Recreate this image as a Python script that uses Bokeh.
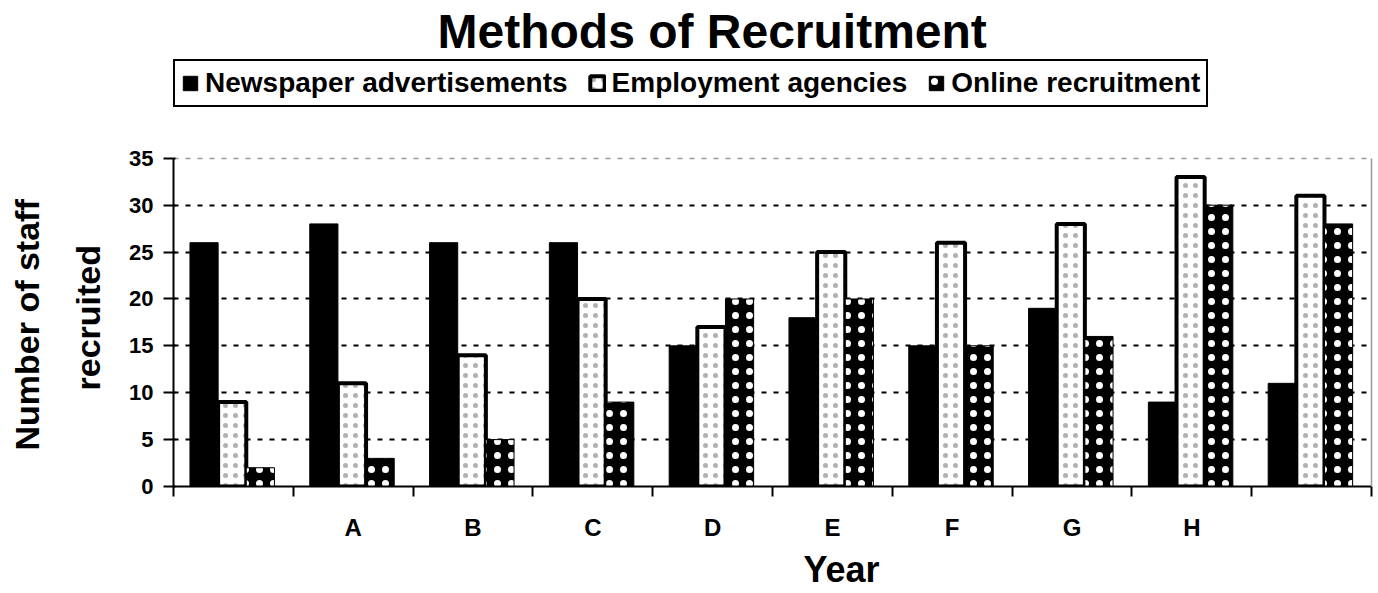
from bokeh.plotting import figure
from bokeh.models import (ColumnDataSource, Range1d, FixedTicker, Legend, LegendItem,
                          Title, Grid, LinearAxis)
from bokeh.transform import dodge
from bokeh.embed import file_html
from bokeh.resources import INLINE

categories = ["", "A", "B", "C", "D", "E", "F", "G", "H", ""]
newspaper = [26, 28, 26, 26, 15, 18, 15, 19, 9, 11]
agencies = [9, 11, 14, 20, 17, 25, 26, 28, 33, 31]
online = [2, 3, 5, 9, 20, 20, 15, 16, 30, 28]
series_names = ["Newspaper advertisements", "Employment agencies", "Online recruitment"]
y_ticks = [0, 5, 10, 15, 20, 25, 30, 35]
y_label_lines = ["Number of staff", "recruited"]

centers = [i + 0.49 for i in range(len(categories))]
source = ColumnDataSource(dict(x=centers, news=newspaper, agen=agencies, onl=online))

FONT = "Liberation Sans"

# layout (pixels): frame spans from FRAME_TOP to FRAME_BOTTOM; value 35 sits at AXIS_TOP
FRAME_TOP, AXIS_TOP, FRAME_BOTTOM = 58, 157, 486
y_max = y_ticks[-1]
y_range_end = y_max * (FRAME_BOTTOM - FRAME_TOP) / (FRAME_BOTTOM - AXIS_TOP)

p = figure(width=1378, height=593, x_range=Range1d(0, len(categories)), y_range=Range1d(0, y_range_end),
           output_backend="svg", toolbar_location=None, title=None,
           min_border_left=173, min_border_right=7, min_border_top=FRAME_TOP,
           min_border_bottom=593 - FRAME_BOTTOM)
p.background_fill_color = "white"
p.border_fill_color = "white"
p.outline_line_color = None

bw = 0.235
r1 = p.vbar(x=dodge("x", -0.235, range=p.x_range), top="news", width=bw, source=source,
            fill_color="black", line_color="black", line_width=1)
r2 = p.vbar(x=dodge("x", 0.0, range=p.x_range), top="agen", width=bw, source=source,
            fill_color="white", line_color="black", line_width=4,
            hatch_pattern="dot", hatch_color="#b0b0b0", hatch_scale=10, hatch_weight=0.1)
r3 = p.vbar(x=dodge("x", 0.235, range=p.x_range), top="onl", width=bw, source=source,
            fill_color="black", line_color="black", line_width=1,
            hatch_pattern="dot", hatch_color="white", hatch_scale=14, hatch_weight=0.5)

# grid
p.xgrid.visible = False
p.ygrid.ticker = FixedTicker(ticks=y_ticks[1:-1])
p.ygrid.grid_line_color = "black"
p.ygrid.grid_line_width = 2
p.ygrid.grid_line_dash = "5 7"
top_grid = Grid(dimension=1, ticker=FixedTicker(ticks=[y_max]), grid_line_color="#999999",
                grid_line_width=1.5, grid_line_dash="5 7")
p.add_layout(top_grid)

# y axis
ya = p.yaxis[0]
ya.bounds = (0, y_max)
ya.ticker = FixedTicker(ticks=y_ticks)
ya.axis_line_width = 2
ya.axis_line_color = "black"
ya.major_tick_line_width = 2
ya.major_tick_out = 10
ya.major_tick_in = 2
ya.minor_tick_line_color = None
ya.major_label_text_font = FONT
ya.major_label_text_font_style = "bold"
ya.major_label_text_font_size = "22px"
ya.major_label_text_color = "black"
ya.major_label_standoff = 10

# y axis title as two rotated lines, placed in the left panel
ylab2 = Title(text=y_label_lines[1], align="left", offset=96, standoff=40, vertical_align="bottom",
              text_font=FONT, text_font_style="bold", text_font_size="34px", text_color="black")
p.add_layout(ylab2, "left")
ylab1 = Title(text=y_label_lines[0], align="left", offset=36, standoff=2, vertical_align="bottom",
              text_font=FONT, text_font_style="bold", text_font_size="34px", text_color="black")
p.add_layout(ylab1, "left")

# right border (grey), only over the data area
ra = LinearAxis(bounds=(0, y_max), ticker=FixedTicker(ticks=[]), axis_line_color="#999999",
                axis_line_width=1.5, major_tick_line_color=None, minor_tick_line_color=None,
                major_label_text_color=None)
p.add_layout(ra, "right")

# x axis
xa = p.xaxis[0]
xa.ticker = FixedTicker(ticks=[i + 0.5 for i in range(len(categories))],
                        minor_ticks=list(range(len(categories) + 1)))
xa.major_label_overrides = {i + 0.5: c for i, c in enumerate(categories)}
xa.axis_line_width = 2
xa.axis_line_color = "black"
xa.major_tick_out = 0
xa.major_tick_in = 0
xa.minor_tick_out = 10
xa.minor_tick_in = 0
xa.minor_tick_line_width = 2
xa.minor_tick_line_color = "black"
xa.major_label_text_font = FONT
xa.major_label_text_font_style = "bold"
xa.major_label_text_font_size = "24px"
xa.major_label_text_color = "black"
xa.major_label_standoff = 17

year = Title(text="Year", align="left", offset=630, standoff=6,
             text_font=FONT, text_font_style="bold", text_font_size="36px", text_color="black")
p.add_layout(year, "below")

main_title = Title(text="Methods of Recruitment", align="left", offset=264, standoff=4,
                   text_font=FONT, text_font_style="bold", text_font_size="48px", text_color="black")
p.add_layout(main_title, "above")

legend = Legend(items=[LegendItem(label=series_names[0], renderers=[r1]),
                       LegendItem(label=series_names[1], renderers=[r2]),
                       LegendItem(label=series_names[2], renderers=[r3])],
                orientation="horizontal", location=(0, FRAME_BOTTOM - 107),
                border_line_color="black", border_line_width=2, border_line_alpha=1,
                background_fill_color="white", background_fill_alpha=1,
                label_text_font=FONT, label_text_font_style="bold", label_text_font_size="28px",
                label_text_color="black",
                glyph_width=18, glyph_height=18, label_standoff=6, spacing=20,
                padding=6, margin=0)
p.add_layout(legend, "center")

open("out.html", "w").write(file_html(p, INLINE))
